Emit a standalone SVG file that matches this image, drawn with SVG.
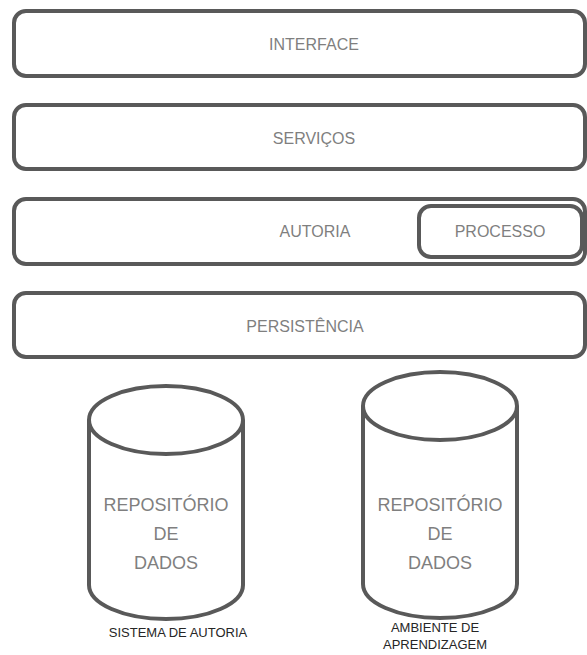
<svg xmlns="http://www.w3.org/2000/svg" width="587" height="655" viewBox="0 0 587 655">
<style>
.box{fill:#fff;stroke:#595959;stroke-width:4}
.t{font-family:"Liberation Sans",Arial,sans-serif;fill:#7f7f7f;text-anchor:middle}
.l{font-size:16px}
.c{font-size:18px}
.s{font-family:"Liberation Sans",Arial,sans-serif;fill:#262626;text-anchor:middle;font-size:13px}
</style>
<rect width="587" height="655" fill="#fff"/>
<g id="interface"><rect class="box" x="14" y="11" width="571" height="65" rx="12"/><text class="t l" x="314" y="50">INTERFACE</text></g>
<g id="servicos"><rect class="box" x="14" y="105" width="571" height="64" rx="12"/><text class="t l" x="314" y="144">SERVIÇOS</text></g>
<g id="autoria"><rect class="box" x="14" y="199" width="571" height="65" rx="12"/><text class="t l" x="315" y="237">AUTORIA</text></g>
<g id="processo"><rect class="box" x="419" y="206" width="163" height="51" rx="12"/><text class="t l" x="500" y="237">PROCESSO</text></g>
<g id="persistencia"><rect class="box" x="14" y="293" width="571" height="64" rx="12"/><text class="t l" x="305" y="332">PERSISTÊNCIA</text></g>
<g id="repo1">
<path class="box" d="M89,420 L89,585 A77,34 0 0 0 243,585 L243,420"/>
<ellipse class="box" cx="166" cy="420" rx="77" ry="34"/>
<text class="t c" x="166" y="511">REPOSITÓRIO</text>
<text class="t c" x="166" y="540">DE</text>
<text class="t c" x="166" y="569">DADOS</text>
<text class="s" x="178" y="637">SISTEMA DE AUTORIA</text>
</g>
<g id="repo2">
<path class="box" d="M363,406 L363,584 A77,34 0 0 0 517,584 L517,406"/>
<ellipse class="box" cx="440" cy="406" rx="77" ry="34"/>
<text class="t c" x="440" y="511">REPOSITÓRIO</text>
<text class="t c" x="440" y="540">DE</text>
<text class="t c" x="440" y="569">DADOS</text>
<text class="s" x="435" y="632">AMBIENTE DE</text>
<text class="s" x="435" y="649">APRENDIZAGEM</text>
</g>
<g id="connectors"></g>
</svg>
